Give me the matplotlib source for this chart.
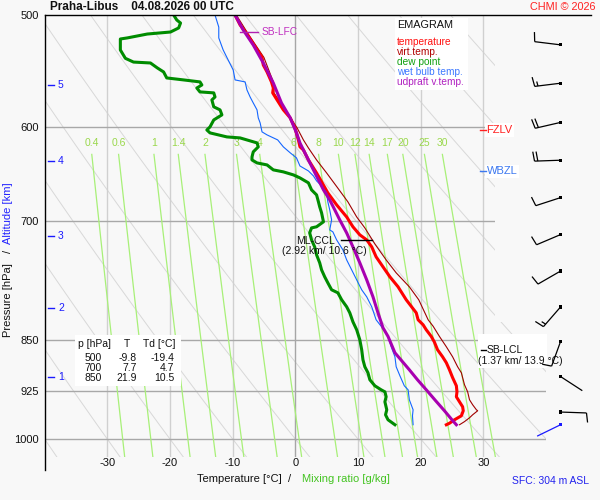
import numpy as np
import matplotlib
matplotlib.use("Agg")
import matplotlib.pyplot as plt
from matplotlib.collections import LineCollection
from matplotlib.patches import Rectangle
from matplotlib.lines import Line2D
from matplotlib.transforms import IdentityTransform
from matplotlib.ticker import FixedLocator, FixedFormatter, NullLocator

plt.rcParams['font.family'] = ['Liberation Sans', 'DejaVu Sans']
plt.rcParams['axes.unicode_minus'] = False

# ---------------- data ----------------
temp_p = [500, 508.2, 515.8, 524.2, 535.9, 542.6, 548.8, 557.8, 563.4, 567.9,
          574.5, 583.9, 591.6, 601.4, 613.3, 620.3, 623.4, 633.7, 647.3, 668.8,
          682.0, 695.6, 706.9, 716.3, 722.2, 730.5, 742.5, 754.8, 767.2, 779.8,
          796.5, 813.7, 823.0, 829.8, 836.6, 845.7, 853.6, 864.4, 874.3, 882.9,
          893.1, 904.6, 916.8, 925.9, 933.4, 941.1, 948.8, 955.0, 962.9, 969.2,
          974.7, 977.1]
temp_t = [-9.6, -8.8, -7.7, -6.7, -5.3, -5.1, -4.5, -3.8, -3.5, -3.6,
          -2.9, -1.9, -0.8, -0.05, 0.5, 0.75, 1.3, 2.1, 3.4, 5.2,
          6.6, 8.2, 9.2, 10.3, 11.4, 12.2, 12.9, 14.0, 15.1, 16.4,
          17.7, 19.3, 19.6, 20.4, 20.9, 21.7, 22.2, 22.7, 23.5, 24.1,
          24.6, 25.1, 25.7, 25.8, 25.7, 26.2, 26.7, 26.8, 26.5, 25.4,
          24.6, 24.1]

virt_p = [500, 515.8, 535.9, 557.8, 567.9, 583.9, 601.4, 613.3, 621.4, 633.7,
          647.3, 661.8, 678.7, 695.6, 708.2, 727.0, 746.2, 762.2, 779.8, 796.5,
          823.0, 831.8, 845.7, 860.1, 874.3, 888.7, 897.5, 915.3, 925.9, 938.0,
          945.7, 953.5, 955.0, 961.3, 966.0, 972.1, 977.1]
virt_t = [-9.4, -7.5, -5.0, -3.5, -3.4, -1.6, 0.3, 1.3, 2.1, 3.4,
          5.0, 6.6, 8.4, 9.8, 11.1, 12.7, 14.5, 16.1, 18.2, 19.7,
          21.2, 22.0, 23.0, 24.1, 25.1, 25.9, 26.5, 27.0, 27.5, 27.8,
          28.3, 28.9, 29.1, 28.3, 27.8, 27.0, 26.2]

dew_p = [500, 504.1, 506.6, 510.7, 514.1, 515.8, 519.1, 520.0, 529.4, 536.7,
         540.0, 540.8, 545.2, 548.8, 554.2, 556.0, 557.8, 560.6, 563.4, 567.0,
         567.9, 571.7, 574.5, 581.0, 583.9, 588.7, 593.6, 600.4, 603.4, 606.3,
         610.3, 611.3, 616.3, 620.3, 625.4, 630.6, 633.7, 636.8, 638.9, 644.1,
         646.2, 649.4, 652.6, 657.9, 665.5, 671.0, 678.7, 684.2, 691.0, 701.2,
         706.9, 708.2, 713.9, 722.2, 730.5, 740.1, 749.8, 758.5, 767.2, 774.8,
         783.6, 787.5, 796.5, 805.7, 813.7, 825.7, 836.6, 850.4, 864.4, 878.6,
         888.7, 897.5, 907.8, 916.8, 922.8, 925.9, 933.4, 941.1, 953.5, 961.3,
         969.2, 977.1]
dew_t = [-19.4, -18.9, -18.3, -18.6, -19.9, -23.6, -26.8, -27.9, -27.9, -27.1,
         -25.8, -23.1, -22.0, -21.0, -20.5, -17.8, -15.2, -14.9, -15.7, -15.2,
         -13.0, -12.8, -13.3, -13.0, -12.0, -11.7, -13.0, -13.6, -14.1, -13.6,
         -10.9, -8.8, -6.1, -5.9, -6.7, -6.9, -6.9, -6.1, -4.5, -3.5,
         -1.9, -0.3, 0.75, 2.1, 2.6, 3.4, 3.7, 3.9, 4.2, 4.5,
         3.4, 2.6, 2.3, 2.6, 3.1, 3.4, 3.9, 4.2, 4.7, 5.2,
         5.8, 6.8, 7.4, 8.2, 8.7, 9.2, 9.8, 10.3, 10.6, 10.8,
         11.1, 11.6, 11.9, 12.7, 13.7, 14.3, 14.5, 14.3, 14.6, 14.4,
         14.8, 15.9]

wb_p = [500, 510.0, 519.1, 529.4, 538.2, 547.0, 556.0, 557.8, 565.2, 571.7,
        577.3, 583.9, 591.6, 596.5, 605.3, 608.3, 613.3, 620.3, 626.4, 631.6,
        640.0, 645.2, 650.5, 655.8, 661.2, 668.8, 678.7, 687.6, 699.0, 710.5,
        712.8, 722.2, 734.1, 746.2, 758.5, 771.0, 783.6, 792.7, 805.7, 823.0,
        833.9, 845.7, 860.1, 874.3, 888.7, 902.0, 916.8, 922.8, 938.0, 953.5,
        962.9, 977.1]
wb_t = [-12.8, -12.2, -12.2, -11.5, -10.7, -9.9, -9.6, -8.0, -7.7, -7.2,
        -6.7, -6.1, -5.9, -5.6, -5.3, -4.5, -2.8, -1.9, -0.8, 0.2,
        0.75, 2.1, 2.9, 3.4, 4.2, 5.0, 5.2, 5.5, 5.8, 5.5,
        6.0, 6.6, 7.6, 8.2, 9.0, 9.8, 10.6, 11.4, 12.2, 12.9,
        13.9, 14.8, 15.3, 15.9, 16.1, 16.7, 17.4, 18.0, 18.2, 18.8,
        18.7, 18.8]

parcel_p = [500, 512.4, 525.1, 540.8, 558.8, 577.3, 591.6, 606.3, 616.3, 623.4,
            633.7, 644.1, 654.7, 665.5, 676.5, 687.6, 699.0, 714.0, 730.5, 749.8,
            771.0, 792.7, 813.7, 833.9, 845.7, 868.6, 893.1, 907.8, 922.8, 939.5,
            955.0, 969.2, 977.1]
parcel_t = [-9.6, -8.3, -6.7, -5.1, -3.5, -2.2, -0.8, 0.2, 0.75, 1.3,
            2.1, 2.9, 3.7, 4.5, 5.5, 6.3, 7.1, 8.2, 9.2, 10.3,
            11.4, 12.4, 13.2, 14.0, 14.8, 15.9, 18.2, 19.5, 20.9, 22.4,
            23.8, 25.0, 25.7]

wind_p = [977.1, 957, 903, 853, 806, 760, 716, 674, 634, 596, 559, 525]
wind_dir = [244, 92, 123, 200, 221, 240, 247, 252, 268, 257, 263, 277]
wind_kt = [3, 10, 3, 10, 15, 10, 10, 10, 20, 20, 15, 10]

mix_w = [0.4, 0.6, 1, 1.4, 2, 3, 4, 6, 8, 10, 12, 14, 17, 20, 25, 30]
mix_labels = ['0.4', '0.6', '1', '1.4', '2', '3', '4', '6', '8', '10', '12', '14',
              '17', '20', '25', '30']

iso_T = [-30, -20, -10, 0, 10, 20, 30]
iso_T_labels = ['-30', '-20', '-10', '0', '10', '20', '30']
isobars = [600, 700, 850, 925, 1000]
p_ticks = [500, 600, 700, 850, 925, 1000]
p_tick_labels = ['500', '600', '700', '850', '925', '1000']
theta_lines = [273.15 + 10 * n for n in range(-5, 13)]

alt_km = ['1', '2', '3', '4', '5']
alt_p = [904, 807, 717.5, 635, 560.5]

table_p = ['500', '700', '850']
table_t = ['-9.8', '7.7', '21.9']
table_td = ['-19.4', '4.7', '10.5']

fzlv_p = 603.4
wbzl_p = 645.5
sb_lfc_p = 514
ml_ccl_p = 722.2
sb_lcl_p = 864.4

# ---------------- figure ----------------
W, H, DPI = 600, 500, 100
BG = '#f8f8f8'
fig = plt.figure(figsize=(W / DPI, H / DPI), dpi=DPI, facecolor=BG)
AX_L, AX_R, AX_T, AX_B = 44.5, 546.0, 15.0, 457.0
ax = fig.add_axes([AX_L / W, 1 - AX_B / H, (AX_R - AX_L) / W, (AX_B - AX_T) / H])
ax.set_facecolor('none')
ax.set_yscale('log')
ax.set_xlim(-40, 40)
ax.set_ylim(1030, 500)
for s in ax.spines.values():
    s.set_visible(False)
ax.yaxis.set_minor_locator(NullLocator())
ax.yaxis.set_major_locator(FixedLocator(p_ticks))
ax.yaxis.set_major_formatter(FixedFormatter(p_tick_labels))
ax.xaxis.set_major_locator(FixedLocator(iso_T))
ax.xaxis.set_major_formatter(FixedFormatter(iso_T_labels))
ax.tick_params(axis='both', length=0, labelsize=8, colors='#111111')
ax.tick_params(axis='x', pad=1.0)
ax.tick_params(axis='y', pad=4.0)


def fx(x):
    return x / W


def fy(y):
    return 1 - y / H


def T_px(x):
    return -40 + (x - AX_L) / (AX_R - AX_L) * 80


# background grid
pp = np.geomspace(500, 1030, 200)
for th in theta_lines:
    tt = th * (pp / 1000.0) ** 0.2857 - 273.15
    ax.plot(tt, pp, color='#d8d8d8', lw=0.7, zorder=1)
for t in iso_T:
    ax.plot([t, t], [500, 1030], color='#a6a6a6' if t == 0 else '#d0d0d0',
            lw=1.0, zorder=1.1)
for p in isobars:
    ax.plot([-40, 40], [p, p], color='#a8a8a8', lw=1.0, zorder=1.2)


def td_from_w(w, p):
    e = w * p / (622.0 + w)
    a = np.log(e / 6.112)
    return 243.5 * a / (17.67 - a)


pm = np.geomspace(628, 1030, 60)
for w, lab in zip(mix_w, mix_labels):
    ax.plot(td_from_w(w, pm), pm, color='#a8f078', lw=0.9, zorder=1.3)
    ax.text(td_from_w(w, 628), 616, lab, ha='center', va='center',
            color='#9ad84c', fontsize=7.5, zorder=2)

# cover for upper-right (wind area)
ax.add_patch(Rectangle((T_px(494.5), 499), 12, 826 - 499, facecolor=BG,
                       edgecolor='none', zorder=1.6, clip_on=False))

# profiles
ax.plot(virt_t, virt_p, color='#a00000', lw=0.8, zorder=3)
ax.plot(temp_t, temp_p, color='#ff0000', lw=2.2, zorder=3.1)
ax.plot(dew_t, dew_p, color='#008c00', lw=2.2, zorder=3.2)
ax.plot(wb_t, wb_p, color='#1466ff', lw=0.8, zorder=3.3)
ax.plot(parcel_t, parcel_p, color='#a800b0', lw=2.2, zorder=3.4)

# altitude ticks
for lab, p in zip(alt_km, alt_p):
    ax.plot([T_px(48), T_px(54)], [p, p], color='#1a1aff', lw=1.0, zorder=4)
    ax.text(T_px(58), p, lab, color='#1a1aff', fontsize=7.5, ha='left',
            va='center', zorder=4)

# level annotations
ax.plot([T_px(240), T_px(258)], [sb_lfc_p, sb_lfc_p], color='#b020b0', lw=1.0, zorder=4)
ax.text(T_px(262), sb_lfc_p, 'SB-LFC', color='#c030c0', fontsize=7.3,
        ha='left', va='center', zorder=4)

box = dict(facecolor='white', edgecolor='none', pad=1.2)
ax.text(T_px(486.5), fzlv_p, 'FZLV', color='#ff2020', fontsize=8, ha='left',
        va='center', zorder=5, bbox=box, clip_on=False)
ax.plot([T_px(480), T_px(485.5)], [fzlv_p, fzlv_p], color='#ff2020', lw=1.0,
        zorder=6, clip_on=False)
ax.text(T_px(486.5), wbzl_p, 'WBZL', color='#3c78f0', fontsize=8, ha='left',
        va='center', zorder=5, bbox=box, clip_on=False)
ax.plot([T_px(480), T_px(485.5)], [wbzl_p, wbzl_p], color='#3c78f0', lw=1.0,
        zorder=6, clip_on=False)

ax.plot([T_px(341), T_px(372)], [ml_ccl_p, ml_ccl_p], color='black', lw=1.0, zorder=5)
ax.text(T_px(296), 723.5, 'ML-CCL', color='#111111', fontsize=7.5, ha='left',
        va='center', zorder=5)
ax.text(T_px(282), 736.0, '(2.92 km/ 10.6 °C)', color='#111111', fontsize=7.5,
        ha='left', va='center', zorder=5)

ax.add_patch(Rectangle((T_px(478), 843), T_px(547) - T_px(478), 890 - 843,
                       facecolor='white', edgecolor='none', zorder=4.5, clip_on=False))
ax.plot([T_px(480.5), T_px(485.5)], [sb_lcl_p, sb_lcl_p], color='black', lw=1.0, zorder=5)
ax.text(T_px(486.5), sb_lcl_p, 'SB-LCL', color='#111111', fontsize=7.5,
        ha='left', va='center', zorder=5)
ax.text(T_px(478), 880.5, '(1.37 km/ 13.9 °C)', color='#111111', fontsize=7.5,
        ha='left', va='center', zorder=5, clip_on=False)

# frame lines
fig.add_artist(Line2D([fx(44.5), fx(591)], [fy(15), fy(15)], color='black', lw=1.0,
                      transform=fig.transFigure))
fig.add_artist(Line2D([fx(45), fx(45)], [fy(15), fy(470)], color='black', lw=1.0,
                      transform=fig.transFigure))

# legend box
fig.add_artist(Rectangle((fx(395), fy(90)), 73 / W, 72 / H, transform=fig.transFigure,
                         facecolor='white', edgecolor='none', zorder=1))
fig.text(fx(397), fy(25.5), 'EMAGRAM', fontsize=7.8, color='#111111', va='center')
leg = [('temperature', '#ff1010'), ('virt.temp.', '#b00000'), ('dew point', '#10a010'),
       ('wet bulb temp.', '#3c78ff'), ('udpraft v.temp.', '#b020c0')]
for i, (s, c) in enumerate(leg):
    fig.text(fx(397), fy(42.3 + 9.85 * i), s, fontsize=7.3, color=c, va='center')

# table
fig.add_artist(Rectangle((fx(75), fy(386)), 106 / W, 51 / H, transform=fig.transFigure,
                         facecolor='white', edgecolor='none', zorder=1))
fig.text(fx(78), fy(344), 'p [hPa]', fontsize=7.5, va='center', color='#111111')
fig.text(fx(127), fy(344), 'T', fontsize=7.5, va='center', ha='center', color='#111111')
fig.text(fx(143), fy(344), 'Td [°C]', fontsize=7.5, va='center', color='#111111')
for i, (a, b, c) in enumerate(zip(table_p, table_t, table_td)):
    yy = 358.3 + 10 * i
    fig.text(fx(102), fy(yy), a, fontsize=7.5, va='center', ha='right', color='#111111')
    fig.text(fx(137), fy(yy), b, fontsize=7.5, va='center', ha='right', color='#111111')
    fig.text(fx(174), fy(yy), c, fontsize=7.5, va='center', ha='right', color='#111111')

# titles and axis labels
fig.text(fx(50), fy(7.5), 'Praha-Libus    04.08.2026 00 UTC', fontsize=8.5,
         fontweight='bold', va='center', color='#111111')
fig.text(fx(595), fy(7), 'CHMI © 2026', fontsize=7.8, color='#ff2020', ha='right',
         va='center')
fig.text(fx(197), fy(479.5), 'Temperature [°C]  /', fontsize=8, va='center',
         color='#111111')
fig.text(fx(302.5), fy(479.5), 'Mixing ratio [g/kg]', fontsize=8, va='center',
         color='#44c422')
fig.text(fx(512), fy(481), 'SFC: 304 m ASL', fontsize=7.5, va='center',
         color='#2222ee')
fig.text(fx(8), fy(300), 'Pressure [hPa]', fontsize=8, rotation=90, ha='center',
         va='center', color='#111111')
fig.text(fx(8), fy(251), '/', fontsize=8, rotation=90, ha='center', va='center',
         color='#111111')
fig.text(fx(8), fy(213), 'Altitude [km]', fontsize=8, rotation=90, ha='center',
         va='center', color='#2222ff')

# wind barbs
BARB_T = T_px(560.5)
SHAFT, FULL, HALF, GAP, TILT = 26.0, 9.5, 4.6, 3.3, 0.15


def draw_barb(p, d, spd, color):
    x0, y0 = ax.transData.transform((BARB_T, p))
    th = np.deg2rad(d)
    ux, uy = np.sin(th), np.cos(th)
    qx, qy = uy, -ux
    xe, ye = x0 + SHAFT * ux, y0 + SHAFT * uy
    segs = [[(x0, y0), (xe, ye)]]
    n_full = int(spd // 10)
    n_half = int((spd - 10 * n_full) // 5)
    pos = 0.0
    for _ in range(n_full):
        bx, by = xe - pos * ux, ye - pos * uy
        segs.append([(bx, by), (bx + FULL * (qx + TILT * ux), by + FULL * (qy + TILT * uy))])
        pos += GAP
    for _ in range(n_half):
        if pos == 0:
            pos = GAP
        bx, by = xe - pos * ux, ye - pos * uy
        segs.append([(bx, by), (bx + HALF * (qx + TILT * ux), by + HALF * (qy + TILT * uy))])
        pos += GAP
    fig.add_artist(LineCollection(segs, colors=color, linewidths=0.9,
                                  transform=IdentityTransform(), zorder=6))
    fig.add_artist(Rectangle((x0 - 1.6, y0 - 1.6), 3.2, 3.2, facecolor=color,
                             edgecolor='none', transform=IdentityTransform(), zorder=6))


for i, (p, d, s) in enumerate(zip(wind_p, wind_dir, wind_kt)):
    draw_barb(p, d, s, '#1a1aff' if i == 0 else 'black')

fig.savefig('out.png', dpi=DPI, facecolor=BG)
